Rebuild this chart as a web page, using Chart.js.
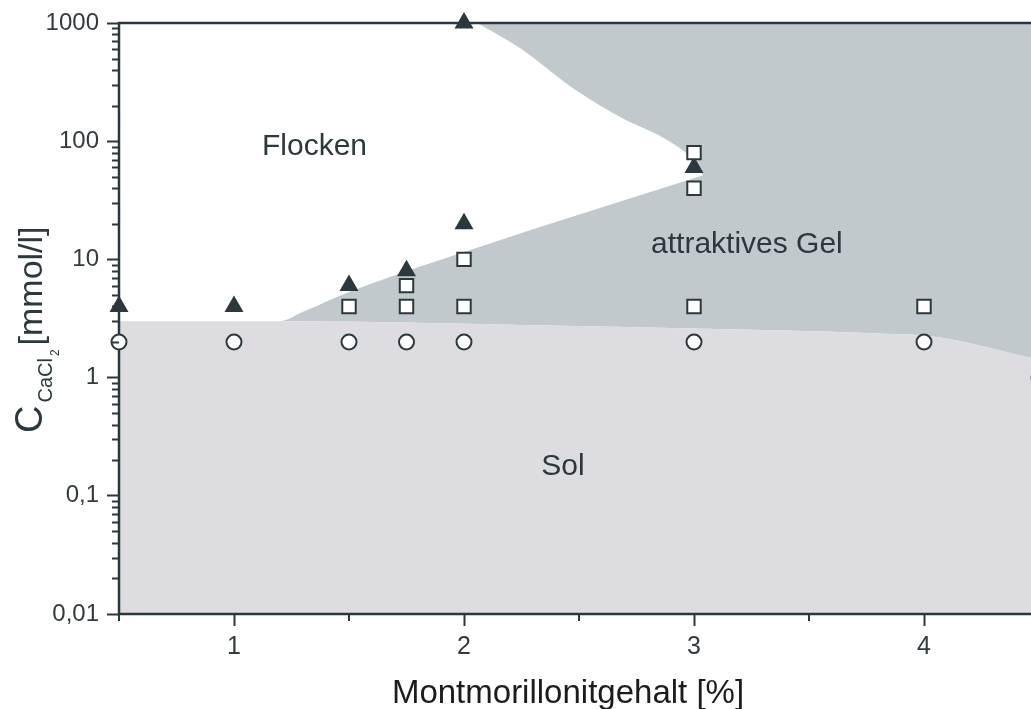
<!DOCTYPE html>
<html lang="de">
<head>
<meta charset="UTF-8">
<title>Montmorillonit - CaCl2 Phasendiagramm</title>
<script src="https://cdn.jsdelivr.net/npm/chart.js"></script>
<style>
  html, body { margin: 0; padding: 0; background: #fff; overflow: hidden; }
  #wrap { position: absolute; left: 0; top: 0; width: 1045px; height: 709px; }
</style>
</head>
<body>
<div id="wrap"><canvas id="chart" width="1045" height="709"></canvas></div>
<script>
  // achsen
  const xTicks = [1, 2, 3, 4];
  const xTickLabels = ['1', '2', '3', '4'];
  const xMinorTicks = [0.5, 1.5, 2.5, 3.5, 4.5];
  const yTicks = [0.01, 0.1, 1, 10, 100, 1000];
  const yTickLabels = ['0,01', '0,1', '1', '10', '100', '1000'];

  // messpunkte
  const flockenX = [0.5, 1, 1.5, 1.75, 2, 2, 3];
  const flockenY = [4, 4, 6, 8, 20, 1000, 60];
  const gelX = [1.5, 1.75, 1.75, 2, 2, 3, 3, 3, 4];
  const gelY = [4, 4, 6, 4, 10, 4, 40, 80, 4];
  const solX = [0.5, 1, 1.5, 1.75, 2, 3, 4, 4.5];
  const solY = [2, 2, 2, 2, 2, 2, 2, 1];

  // phasengrenzen
  const solBoundX = [0.5, 1.2, 2.6, 3.0, 3.8, 4.04, 4.5];
  const solBoundY = [3.0, 3.0, 2.7, 2.6, 2.36, 2.23, 1.42];
  const flockLowX = [0.5, 1.2, 1.3, 1.5, 2.08, 3.04];
  const flockLowY = [3.0, 3.0, 3.6, 5.3, 13, 51.5];
  const flockUpX = [2.057, 2.243, 2.474, 2.665, 2.939, 3.026, 3.04, 4.5];
  const flockUpY = [1000, 614, 281, 166, 87, 59, 51.5, 51.5];

  // beschriftung der bereiche
  const regionNames = ['Flocken', 'attraktives Gel', 'Sol'];
  const regionX = [1.35, 3.23, 2.43];
  const regionY = [90, 13.4, 0.176];

  const DARK = '#2b383d';
  const GEL = '#c2c9cc';
  const SOL = '#dcdce1';
  const FONT = '"Liberation Sans", Arial, sans-serif';
  const NONE = 'rgba(0,0,0,0)';

  const pts = (xs, ys) => xs.map((x, i) => ({ x: x, y: ys[i] }));

  const areaStyle = (color, fill) => ({
    fill: fill,
    backgroundColor: color,
    borderColor: NONE,
    borderWidth: 0,
    pointRadius: 0,
    cubicInterpolationMode: 'monotone'
  });

  // achsenlinien erst nach den flaechen, vor den symbolen
  const axesPlugin = {
    id: 'axesLines',
    afterDatasetDraw(chart, args) {
      if (chart.data.datasets[args.index].id !== 'gelUpper') return;
      const ctx = chart.ctx;
      const a = chart.chartArea;
      ctx.save();
      ctx.strokeStyle = DARK;
      ctx.lineWidth = 2.5;
      ctx.beginPath();
      ctx.moveTo(a.left, a.top);
      ctx.lineTo(a.left, a.bottom);
      ctx.moveTo(a.left - 1.25, a.bottom);
      ctx.lineTo(chart.width, a.bottom);
      ctx.moveTo(a.left - 1.25, a.top);
      ctx.lineTo(chart.width, a.top);
      ctx.stroke();
      ctx.restore();
    }
  };

  const extrasPlugin = {
    id: 'extras',
    afterDraw(chart) {
      const ctx = chart.ctx;
      const a = chart.chartArea;
      const xs = chart.scales.x;
      const ys = chart.scales.y;
      ctx.save();

      // kleine ticks
      ctx.strokeStyle = DARK;
      ctx.lineWidth = 2;
      ctx.beginPath();
      for (let d = 0; d < yTicks.length - 1; d++) {
        for (let k = 2; k <= 9; k++) {
          const py = Math.round(ys.getPixelForValue(k * yTicks[d])) + 0.5;
          ctx.moveTo(a.left - 7, py);
          ctx.lineTo(a.left, py);
        }
      }
      xMinorTicks.forEach(v => {
        const px = Math.round(xs.getPixelForValue(v));
        ctx.moveTo(px, a.bottom);
        ctx.lineTo(px, a.bottom + 7);
      });
      ctx.stroke();

      // bereichsnamen
      ctx.fillStyle = DARK;
      ctx.font = '30px ' + FONT;
      ctx.textAlign = 'center';
      ctx.textBaseline = 'middle';
      regionNames.forEach((t, i) => {
        ctx.fillText(t, xs.getPixelForValue(regionX[i]), ys.getPixelForValue(regionY[i]));
      });

      // x-titel
      ctx.fillStyle = '#1c1c1c';
      ctx.font = '33px ' + FONT;
      ctx.textBaseline = 'alphabetic';
      ctx.fillText('Montmorillonitgehalt [%]', (a.left + a.right) / 2 - 11, 703);

      // y-titel mit index
      ctx.fillStyle = DARK;
      ctx.translate(42, 433);
      ctx.rotate(-Math.PI / 2);
      ctx.textAlign = 'left';
      let pos = 0;
      ctx.font = '38px ' + FONT;
      ctx.fillText('C', pos, 0);
      pos += ctx.measureText('C').width + 3;
      ctx.font = '20px ' + FONT;
      ctx.fillText('CaCl', pos, 10);
      pos += ctx.measureText('CaCl').width + 2;
      ctx.font = '12px ' + FONT;
      ctx.fillText('2', pos, 17);
      pos += ctx.measureText('2').width + 4;
      ctx.font = '34px ' + FONT;
      ctx.fillText('[mmol/l]', pos, 0);
      ctx.restore();
    }
  };

  new Chart(document.getElementById('chart'), {
    type: 'line',
    data: {
      datasets: [
        {
          id: 'gel', data: pts(gelX, gelY), showLine: false, pointStyle: 'rect',
          pointRadius: 9.5, backgroundColor: '#fff', borderColor: DARK, pointBorderWidth: 2,
          clip: false, order: 0
        },
        {
          id: 'sol', data: pts(solX, solY), showLine: false, pointStyle: 'circle',
          pointRadius: 7.5, backgroundColor: '#fff', borderColor: DARK, pointBorderWidth: 2,
          clip: false, order: 0
        },
        {
          id: 'flocken', data: pts(flockenX, flockenY), showLine: false, pointStyle: 'triangle',
          pointRadius: 11, backgroundColor: DARK, borderColor: DARK, pointBorderWidth: 0,
          clip: false, order: 1
        },
        Object.assign({ id: 'gelUpper', data: pts(flockUpX, flockUpY), order: 2 }, areaStyle(GEL, 'end')),
        Object.assign({ id: 'flockArea', data: pts(flockLowX, flockLowY), order: 3 }, areaStyle('#fff', 'end')),
        Object.assign({ id: 'solArea', data: pts(solBoundX, solBoundY), order: 4 }, areaStyle(SOL, 'start')),
        Object.assign({ id: 'gelArea', data: pts(solBoundX, solBoundY), order: 5 }, areaStyle(GEL, 'end'))
      ]
    },
    options: {
      responsive: false,
      animation: false,
      events: [],
      layout: { autoPadding: false, padding: { top: 23, right: 6, left: 0, bottom: 0 } },
      plugins: { legend: { display: false }, tooltip: { enabled: false } },
      scales: {
        x: {
          type: 'linear', min: 0.5, max: 4.5,
          afterBuildTicks: s => { s.ticks = xTicks.map(v => ({ value: v })); },
          afterFit: s => { s.height = 95; },
          ticks: {
            callback: (v, i) => xTickLabels[i],
            font: { family: FONT, size: 25 }, color: '#333b3e', padding: 6, maxRotation: 0
          },
          grid: { drawOnChartArea: false, tickLength: 12, tickColor: DARK, tickWidth: 2 },
          border: { display: false }
        },
        y: {
          type: 'logarithmic', min: 0.01, max: 1000,
          afterBuildTicks: s => { s.ticks = yTicks.map(v => ({ value: v })); },
          afterFit: s => { s.width = 119; },
          ticks: {
            callback: (v, i) => yTickLabels[i],
            font: { family: FONT, size: 24 }, color: '#333b3e', padding: 8
          },
          grid: { drawOnChartArea: false, tickLength: 12, tickColor: DARK, tickWidth: 2 },
          border: { display: false }
        }
      }
    },
    plugins: [axesPlugin, extrasPlugin]
  });
</script>
</body>
</html>
